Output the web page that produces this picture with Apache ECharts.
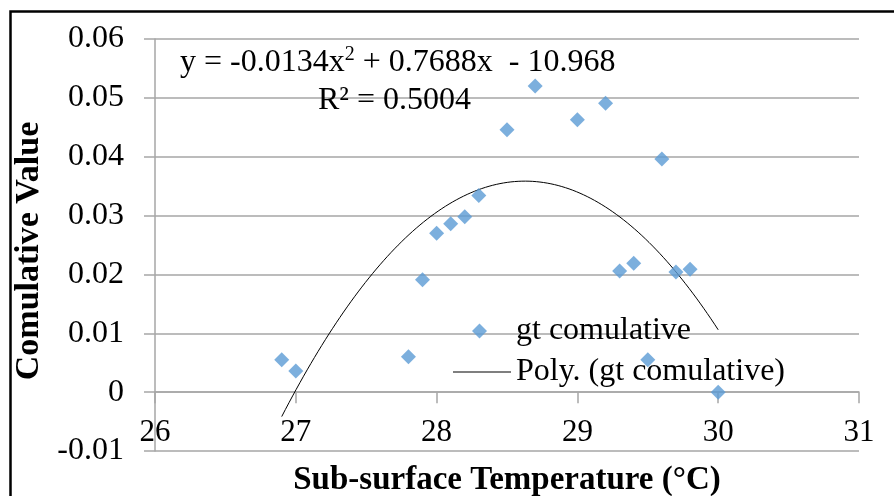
<!DOCTYPE html>
<html>
<head>
<meta charset="utf-8">
<script src="https://cdn.jsdelivr.net/npm/echarts@6/dist/echarts.min.js"></script>
<style>
html,body{margin:0;padding:0;background:#fff;}
#chart{width:894px;height:496px;}
</style>
</head>
<body>
<div id="chart"></div>
<script>
// Data
const temps  = [26.9, 27.0, 27.8, 27.9, 28.0, 28.1, 28.2, 28.3, 28.5, 28.7, 29.0, 29.2, 29.3, 29.4, 29.5, 29.6, 29.7, 29.8, 30.0];
const values = [0.0055, 0.0036, 0.0060, 0.0191, 0.0270, 0.0286, 0.0298, 0.0334, 0.0446, 0.0520, 0.0463, 0.0491, 0.0206, 0.0219, 0.0055, 0.0396, 0.0204, 0.0209, 0.0000];
const seriesNames = ['gt comulative', 'Poly. (gt comulative)'];
const xTicks = [26, 27, 28, 29, 30, 31];
const yTicks = [-0.01, 0, 0.01, 0.02, 0.03, 0.04, 0.05, 0.06];
const equationText = ['y = -0.0134x', '2', ' + 0.7688x  - 10.968'];
const r2Text = 'R² = 0.5004';
const xTitle = 'Sub-surface Temperature (°C)';
const yTitle = 'Comulative Value';

// Least-squares quadratic fit of the data (as the Excel trendline does)
function polyFit2(xs, ys) {
  let S = [0,0,0,0,0], T = [0,0,0];
  for (let i = 0; i < xs.length; i++) {
    let p = 1;
    for (let k = 0; k < 5; k++) { S[k] += p; if (k < 3) T[k] += p * ys[i]; p *= xs[i]; }
  }
  const A = [[S[0],S[1],S[2],T[0]],[S[1],S[2],S[3],T[1]],[S[2],S[3],S[4],T[2]]];
  for (let c = 0; c < 3; c++) {
    let m = c; for (let r = c+1; r < 3; r++) if (Math.abs(A[r][c]) > Math.abs(A[m][c])) m = r;
    [A[c], A[m]] = [A[m], A[c]];
    for (let r = 0; r < 3; r++) if (r !== c) {
      const f = A[r][c] / A[c][c];
      for (let k = c; k < 4; k++) A[r][k] -= f * A[c][k];
    }
  }
  return [A[0][3]/A[0][0], A[1][3]/A[1][1], A[2][3]/A[2][2]];
}
const coef = polyFit2(temps, values);
const xMin = Math.min(...temps), xMax = Math.max(...temps);
const trend = [];
for (let i = 0; i <= 120; i++) {
  const x = xMin + (xMax - xMin) * i / 120;
  trend.push([x, coef[0] + coef[1]*x + coef[2]*x*x]);
}

const FONT = '"Liberation Serif", "Times New Roman", serif';
const GRID_C = '#a6a6a6';
const chart = echarts.init(document.getElementById('chart'));
chart.setOption({
  animation: false,
  backgroundColor: '#fff',
  grid: { left: 155, right: 35, top: 39, bottom: 45, containLabel: false, outerBoundsMode: 'none' },
  xAxis: {
    type: 'value', min: xTicks[0], max: xTicks[xTicks.length-1], interval: 1,
    axisLine: { show: true, onZero: true, lineStyle: { color: GRID_C, width: 1.5 } },
    axisTick: { show: true, length: 11, lineStyle: { color: GRID_C, width: 1.5 } },
    splitLine: { show: false },
    axisLabel: { margin: -34, fontFamily: FONT, fontSize: 31, color: '#000' },
    name: xTitle, nameLocation: 'middle', nameGap: 13,
    nameTextStyle: { fontFamily: FONT, fontSize: 33, fontWeight: 'bold', color: '#000' }
  },
  yAxis: {
    type: 'value', min: yTicks[0], max: yTicks[yTicks.length-1], interval: 0.01,
    axisLine: { show: true, lineStyle: { color: GRID_C, width: 1.5 } },
    axisTick: { show: true, length: 11, lineStyle: { color: GRID_C, width: 1.5 } },
    splitLine: { show: true, lineStyle: { color: GRID_C, width: 1.5 } },
    axisLabel: { margin: 31, fontFamily: FONT, fontSize: 32, color: '#000',
      formatter: v => String(Math.round(v * 100) / 100) },
    name: yTitle, nameLocation: 'middle', nameGap: 96, nameRotate: 90,
    nameTextStyle: { fontFamily: FONT, fontSize: 34, fontWeight: 'bold', color: '#000', padding: [0, 12, 0, 0] }
  },
  legend: [
    { orient: 'vertical', left: 467, top: 310, itemWidth: 15, itemHeight: 15,
      textStyle: { fontFamily: FONT, fontSize: 32, color: '#000', padding: [0, 0, 0, 24] },
      data: [{ name: seriesNames[0], icon: 'diamond' }] },
    { orient: 'vertical', left: 448, top: 351, itemWidth: 58, itemHeight: 14, symbolKeepAspect: true,
      textStyle: { fontFamily: FONT, fontSize: 32, color: '#000' },
      data: [{ name: seriesNames[1], icon: 'path://M0,0h58v1.2h-58z' }] }
  ],
  title: [
    { left: 175, top: 40,
      text: '{a|' + equationText[0] + '}{s|' + equationText[1] + '}{a|' + equationText[2] + '}',
      textStyle: { rich: {
        a: { fontFamily: FONT, fontSize: 32, fontWeight: 'normal', color: '#000', lineHeight: 36 },
        s: { fontFamily: FONT, fontSize: 20, fontWeight: 'normal', color: '#000', verticalAlign: 'top', lineHeight: 36, padding: [0, 0, 10, 0] }
      } } },
    { left: 313, top: 80, text: r2Text,
      textStyle: { fontFamily: FONT, fontSize: 32, fontWeight: 'normal', color: '#000' } }
  ],
  graphic: [{
    type: 'rect', left: 8, top: 9, shape: { width: 900, height: 500 },
    style: { fill: 'none', stroke: '#000', lineWidth: 2.5 }, silent: true
  }],
  series: [
    { name: seriesNames[0], type: 'scatter', symbol: 'diamond', symbolSize: 15,
      itemStyle: { color: '#5b9bd5' }, data: temps.map((t, i) => [t, values[i]]), z: 3 },
    { name: seriesNames[1], type: 'line', showSymbol: false, symbol: 'none', smooth: false,
      lineStyle: { color: '#000', width: 1 }, itemStyle: { color: '#000' }, data: trend, z: 2 }
  ]
});
</script>
</body>
</html>
